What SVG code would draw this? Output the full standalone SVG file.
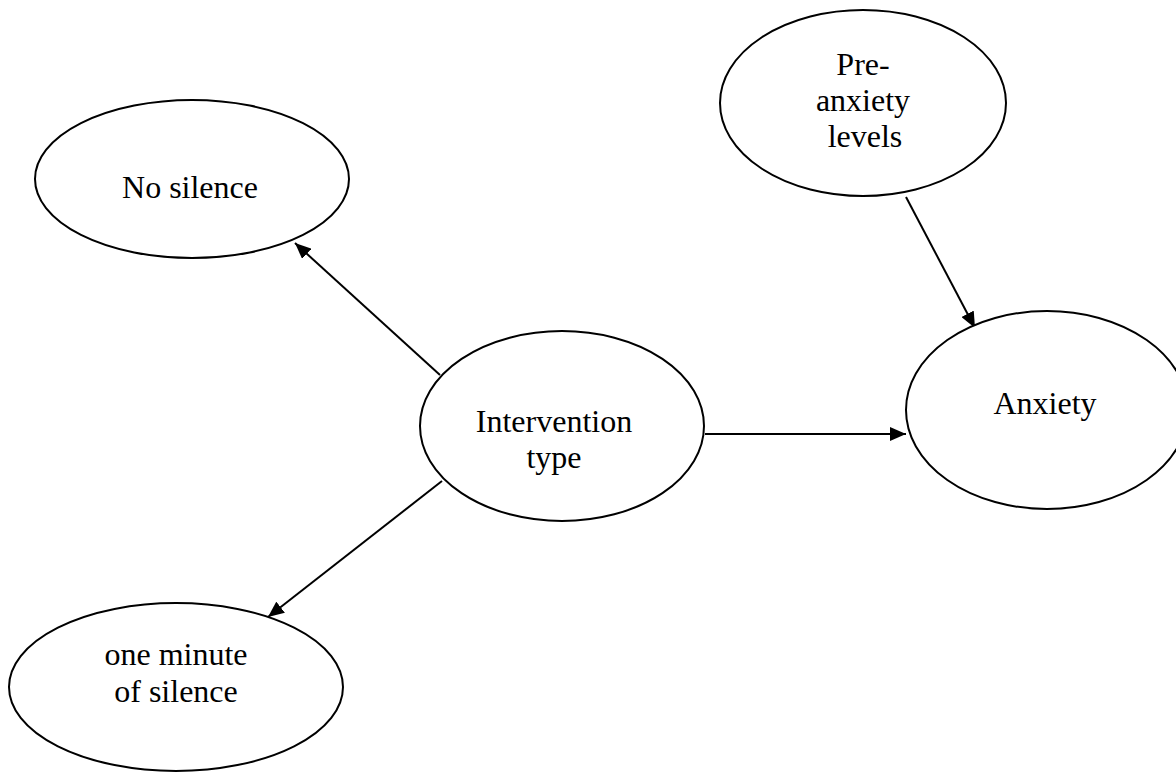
<svg xmlns="http://www.w3.org/2000/svg" width="1176" height="775" viewBox="0 0 1176 775">
<style>
.node{fill:#fff;stroke:#000;stroke-width:2}
.lbl{font-family:"Liberation Serif","Times New Roman",serif;font-size:32px;fill:#000;text-anchor:middle}
.edge{stroke:#000;stroke-width:2;fill:none;marker-end:url(#arr)}
</style>
<defs>
<marker id="arr" markerUnits="userSpaceOnUse" markerWidth="18" markerHeight="14" refX="16" refY="7" orient="auto">
<path d="M0,0 L16,7 L0,14 Z" fill="#000"/>
</marker>
</defs>
<rect width="1176" height="775" fill="#fff"/>
<g id="connectors">
<line class="edge" x1="440" y1="375" x2="295" y2="243"/>
<line class="edge" x1="442" y1="481" x2="268" y2="617"/>
<line class="edge" x1="906" y1="197" x2="975" y2="328"/>
<line class="edge" x1="705" y1="434" x2="906" y2="434"/>
</g>
<g id="no-silence">
<ellipse class="node" cx="192" cy="179" rx="157" ry="79"/>
<text class="lbl" x="190" y="198">No silence</text>
</g>
<g id="pre-anxiety">
<ellipse class="node" cx="863" cy="103" rx="143" ry="93"/>
<text class="lbl" x="863" y="75">Pre-</text>
<text class="lbl" x="863" y="111">anxiety</text>
<text class="lbl" x="865" y="147">levels</text>
</g>
<g id="anxiety">
<ellipse class="node" cx="1047" cy="410" rx="141" ry="99"/>
<text class="lbl" x="1045" y="414">Anxiety</text>
</g>
<g id="intervention">
<ellipse class="node" cx="562" cy="426" rx="142" ry="95"/>
<text class="lbl" x="554" y="432">Intervention</text>
<text class="lbl" x="554" y="468">type</text>
</g>
<g id="one-minute">
<ellipse class="node" cx="176" cy="687" rx="167" ry="84"/>
<text class="lbl" x="176" y="665">one minute</text>
<text class="lbl" x="176" y="702">of silence</text>
</g>
</svg>
